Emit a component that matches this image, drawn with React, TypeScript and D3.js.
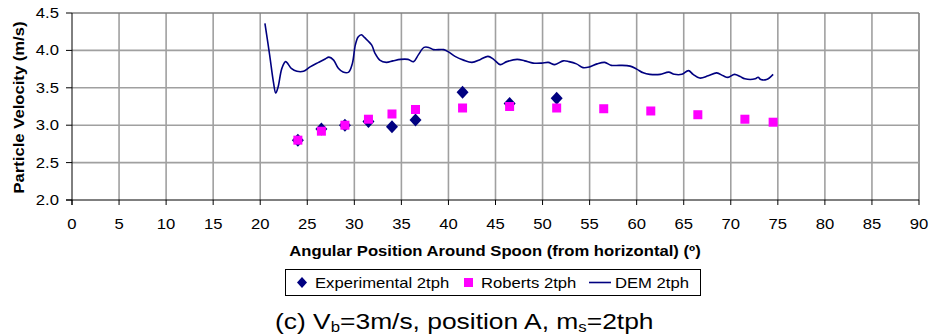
import React from "react";
import * as d3 from "d3";

const expAngle = [24, 26.5, 29, 31.5, 34, 36.5, 41.5, 46.5, 51.5];
const expVel = [2.8, 2.95, 3.0, 3.05, 2.98, 3.07, 3.44, 3.29, 3.36];

const robAngle = [24, 26.5, 29, 31.5, 34, 36.5, 41.5, 46.5, 51.5, 56.5, 61.5, 66.5, 71.5, 74.5];
const robVel = [2.8, 2.92, 3.0, 3.08, 3.15, 3.21, 3.23, 3.25, 3.23, 3.22, 3.19, 3.14, 3.08, 3.04];

const demAngle = [
  20.5, 21.0, 21.4, 21.65, 21.9, 22.3, 22.7, 23.3, 23.9, 24.6, 25.3, 26.2, 26.9, 27.3, 27.8, 28.3, 28.8, 29.4,
  29.8, 30.1, 30.4, 30.75, 31.1, 31.85, 32.2, 32.7, 33.4, 34.1, 34.9, 35.7, 36.3, 36.8, 37.4, 37.9, 38.4, 39.5,
  40.0, 40.7, 41.6, 42.5, 43.4, 44.2, 44.8, 45.5, 46.2, 47.3, 48.1, 49.0, 49.9, 50.6, 51.3, 52.2, 52.8, 53.6,
  54.3, 55.0, 55.8, 56.6, 57.3, 58.2, 59.3, 60.0, 60.7, 61.4, 62.5, 63.4, 64.0, 64.8, 65.5, 66.0, 66.7, 67.6,
  68.5, 69.2, 69.7, 70.4, 71.0, 71.5, 72.6, 72.9, 73.2, 73.8, 74.5,
];
const demVel = [
  4.36, 3.94, 3.58, 3.43, 3.51, 3.76, 3.85, 3.76, 3.72, 3.72, 3.78, 3.84, 3.885, 3.91, 3.87, 3.76, 3.71, 3.71,
  3.83, 4.07, 4.18, 4.21, 4.17, 4.07, 3.96, 3.87, 3.84, 3.86, 3.88, 3.88, 3.85, 3.94, 4.04, 4.04, 4.01, 4.01,
  3.98, 3.92, 3.87, 3.84, 3.88, 3.92, 3.88, 3.81, 3.85, 3.88, 3.86, 3.83, 3.83, 3.84, 3.81, 3.86, 3.85, 3.82,
  3.77, 3.78, 3.82, 3.84, 3.8, 3.8, 3.79, 3.75, 3.7, 3.68, 3.68, 3.71, 3.68, 3.68, 3.73, 3.68, 3.63, 3.66,
  3.7, 3.66, 3.64, 3.68, 3.65, 3.62, 3.62, 3.64, 3.61, 3.61, 3.68,
];

const xTicks = d3.range(0, 91, 5);
const yTicks = [2.0, 2.5, 3.0, 3.5, 4.0, 4.5];

const W = 932;
const H = 334;
const L = 72, R = 919, T = 13, B = 200;
const SX = 1.19;

function ST(props: {
  x: number;
  y: number;
  size: number;
  anchor?: string;
  bold?: boolean;
  rotate?: number;
  sx?: number;
  children: React.ReactNode;
}) {
  const { x, y, size, anchor = "start", bold, rotate = 0, sx = SX, children } = props;
  return (
    <text
      transform={`translate(${x},${y}) rotate(${rotate}) scale(${sx},1)`}
      textAnchor={anchor}
      fontSize={size}
      fontWeight={bold ? "bold" : "normal"}
      fill="#000"
    >
      {children}
    </text>
  );
}

export default function App() {
  const x = d3.scaleLinear().domain([0, 90]).range([L, R]);
  const y = d3.scaleLinear().domain([2, 4.5]).range([B, T]);
  const line = d3
    .line<number>()
    .x((_, i) => x(demAngle[i]))
    .y((d) => y(d))
    .curve(d3.curveCatmullRom.alpha(0.5));
  const font = "'Liberation Sans', Arial, sans-serif";
  const grid = "#a0a0a0";
  return (
    <svg
      width={W}
      height={H}
      style={{ position: "absolute", left: 0, top: 0, background: "#fff" }}
      fontFamily={font}
    >
      {/* grid */}
      {xTicks.filter((t) => t > 0).map((t) => (
        <line key={"gx" + t} x1={x(t)} x2={x(t)} y1={T} y2={B} stroke={t === 90 ? "#808080" : grid} strokeWidth={1.6} />
      ))}
      {yTicks.filter((t) => t > 2).map((t) => (
        <line key={"gy" + t} x1={L} x2={R} y1={y(t)} y2={y(t)} stroke={t === 4.5 ? "#808080" : grid} strokeWidth={1.6} />
      ))}
      {/* axes */}
      <line x1={L} x2={L} y1={T} y2={B + 5} stroke="#000" strokeWidth={1} />
      <line x1={L - 6} x2={R} y1={B} y2={B} stroke="#000" strokeWidth={1} />
      {yTicks.map((t) => (
        <g key={"yt" + t}>
          <line x1={L - 6} x2={L} y1={y(t)} y2={y(t)} stroke="#000" />
          <ST x={L - 13} y={y(t) + 5} size={14} anchor="end">
            {d3.format(".1f")(t)}
          </ST>
        </g>
      ))}
      {xTicks.map((t) => (
        <g key={"xt" + t}>
          <line x1={x(t)} x2={x(t)} y1={B} y2={B + 5} stroke="#000" />
          <ST x={x(t)} y={B + 29} size={14} anchor="middle">
            {t}
          </ST>
        </g>
      ))}
      {/* axis titles */}
      <ST x={24} y={(T + B) / 2 + 1} size={14} anchor="middle" bold rotate={-90}>
        Particle Velocity (m/s)
      </ST>
      <ST x={495} y={256} size={14} anchor="middle" bold>
        Angular Position Around Spoon (from horizontal) (º)
      </ST>
      {/* series */}
      {expAngle.map((a, i) => {
        const cx = x(a), cy = y(expVel[i]);
        return (
          <path
            key={"e" + i}
            d={`M${cx},${cy - 6.5}L${cx + 6},${cy}L${cx},${cy + 6.5}L${cx - 6},${cy}Z`}
            fill="#000080"
          />
        );
      })}
      {robAngle.map((a, i) => (
        <rect key={"r" + i} x={x(a) - 4.5} y={y(robVel[i]) - 4.5} width={9} height={9} fill="#ff00ff" />
      ))}
      <path d={line(demVel) || ""} fill="none" stroke="#000080" strokeWidth={1.6} />
      {/* legend */}
      <rect x={285.5} y={269.5} width={415} height={26} fill="#fff" stroke="#000" strokeWidth={1} />
      <path d="M302,277L307,282.5L302,288L297,282.5Z" fill="#000080" />
      <ST x={315} y={288} size={14}>Experimental 2tph</ST>
      <rect x={464} y={278} width={9} height={9} fill="#ff00ff" />
      <ST x={481} y={288} size={14}>Roberts 2tph</ST>
      <line x1={589} x2={611} y1={282.5} y2={282.5} stroke="#000080" strokeWidth={1.6} />
      <ST x={615} y={288} size={14}>DEM 2tph</ST>
      {/* caption */}
      <text transform={`translate(275,329) scale(1.2,1)`} fontSize={22} fill="#000">
        (c) V<tspan fontSize={14} dy={3}>b</tspan>
        <tspan dy={-3}>=3m/s, position A, m</tspan>
        <tspan fontSize={14} dy={3}>s</tspan>
        <tspan dy={-3}>=2tph</tspan>
      </text>
    </svg>
  );
}
